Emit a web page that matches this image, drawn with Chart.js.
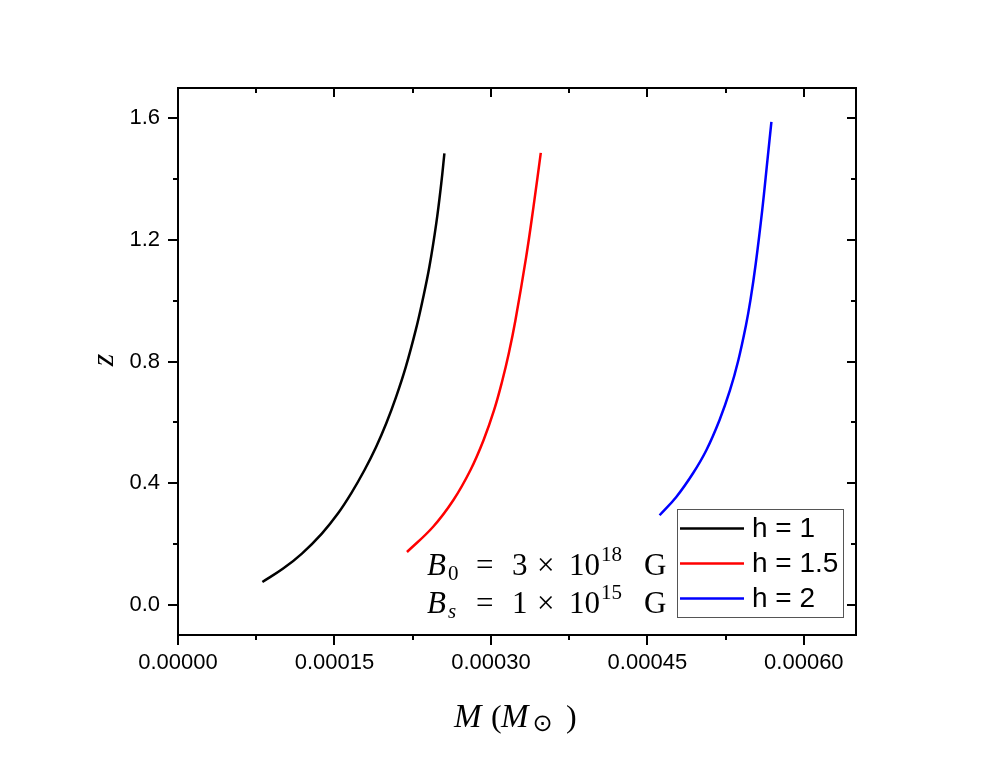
<!DOCTYPE html>
<html>
<head>
<meta charset="utf-8">
<script src="https://cdn.jsdelivr.net/npm/chart.js@4.4.1/dist/chart.umd.min.js"></script>
<style>
  body { margin: 0; background: #fff; }
</style>
</head>
<body>
<canvas id="chartCanvas" width="997" height="763"></canvas>
<script>
// series: mass (solar masses) and z
const seriesLabels = ["h = 1", "h = 1.5", "h = 2"];
const seriesColors = ["#000000", "#ff0000", "#0000ff"];

const massH1 = [0.0000809, 0.0001008, 0.0001188, 0.0001379, 0.0001533, 0.0001659, 0.0001787, 0.0001899, 0.0001996, 0.0002091, 0.0002184, 0.0002279, 0.0002345, 0.0002410, 0.0002476, 0.0002524, 0.0002554];
const zH1 = [0.0744, 0.1185, 0.1679, 0.2337, 0.2996, 0.3654, 0.4421, 0.5189, 0.5959, 0.6835, 0.7822, 0.9031, 1.0018, 1.1115, 1.2543, 1.3860, 1.4848];

const massH15 = [0.0002195, 0.0002444, 0.0002639, 0.0002803, 0.0002929, 0.0003030, 0.0003110, 0.0003171, 0.0003235, 0.0003338, 0.0003408, 0.0003478];
const zH15 = [0.1732, 0.2555, 0.3434, 0.4421, 0.5409, 0.6397, 0.7384, 0.8263, 0.9360, 1.1444, 1.3090, 1.4867];

const massH2 = [0.0004617, 0.0004777, 0.0004936, 0.0005065, 0.0005191, 0.0005292, 0.0005372, 0.0005442, 0.0005488, 0.0005539, 0.0005601, 0.0005651, 0.0005689];
const zH2 = [0.2940, 0.3542, 0.4313, 0.5080, 0.6068, 0.7055, 0.8043, 0.9139, 1.0018, 1.1226, 1.2981, 1.4627, 1.5888];

const xTicks = [0, 0.00015, 0.0003, 0.00045, 0.0006];
const xMinorTicks = [0.000075, 0.000225, 0.000375, 0.000525];
const yTicks = [0, 0.4, 0.8, 1.2, 1.6];
const yMinorTicks = [0.2, 0.6, 1.0, 1.4];

const sansFont = "'Liberation Sans', Arial, sans-serif";
const serifFont = "'Liberation Serif', 'Times New Roman', serif";

function toPoints(xs, ys) {
  return xs.map((x, i) => ({ x: x, y: ys[i] }));
}

const allMass = [massH1, massH15, massH2];
const allZ = [zH1, zH15, zH2];

const datasets = seriesLabels.map((label, i) => ({
  label: label,
  data: toPoints(allMass[i], allZ[i]),
  borderColor: seriesColors[i],
  borderWidth: 2.5,
  pointRadius: 0,
  fill: false,
  tension: 0.4
}));

// ticks, frame, legend and text labels
const framePlugin = {
  id: "frame",
  afterDraw(chart) {
    const ctx = chart.ctx;
    const a = chart.chartArea;
    const xs = chart.scales.x;
    const ys = chart.scales.y;
    ctx.save();
    ctx.strokeStyle = "#000";
    ctx.lineWidth = 2;
    ctx.strokeRect(a.left, a.top, a.right - a.left, a.bottom - a.top);

    function xTick(v, outLen, inLen) {
      const p = Math.round(xs.getPixelForValue(v));
      ctx.beginPath();
      ctx.moveTo(p, a.bottom);
      ctx.lineTo(p, a.bottom + outLen);
      ctx.moveTo(p, a.top);
      ctx.lineTo(p, a.top + inLen);
      ctx.stroke();
    }
    function yTick(v, outLen, inLen) {
      const p = Math.round(ys.getPixelForValue(v));
      ctx.beginPath();
      ctx.moveTo(a.left, p);
      ctx.lineTo(a.left - outLen, p);
      ctx.moveTo(a.right, p);
      ctx.lineTo(a.right - inLen, p);
      ctx.stroke();
    }
    xTicks.forEach(v => xTick(v, 10, 9));
    xMinorTicks.forEach(v => xTick(v, 5, 5));
    yTicks.forEach(v => yTick(v, 10, 9));
    yMinorTicks.forEach(v => yTick(v, 5, 5));

    // legend
    const lx = 677, ly = 509, lw = 166, lh = 108;
    ctx.lineWidth = 1;
    ctx.strokeStyle = "#555";
    ctx.fillStyle = "#fff";
    ctx.fillRect(lx, ly, lw, lh);
    ctx.strokeRect(lx + 0.5, ly + 0.5, lw, lh);
    ctx.font = "28px " + sansFont;
    ctx.textBaseline = "middle";
    ctx.textAlign = "left";
    chart.data.datasets.forEach((ds, i) => {
      const y = ly + 19.5 + i * 35;
      ctx.strokeStyle = ds.borderColor;
      ctx.lineWidth = 2.5;
      ctx.beginPath();
      ctx.moveTo(lx + 3, y);
      ctx.lineTo(lx + 67, y);
      ctx.stroke();
      ctx.fillStyle = "#000";
      ctx.fillText(ds.label, lx + 75, y + 1);
    });

    // annotation text; parts with "after" follow the previous part
    ctx.fillStyle = "#000";
    ctx.textBaseline = "alphabetic";
    function runs(x0, y0, parts) {
      let end = x0;
      parts.forEach(p => {
        ctx.font = p.f;
        const x = p.after ? end + (p.gap || 0) : x0 + p.dx;
        ctx.fillText(p.t, x, y0 + (p.dy || 0));
        end = x + ctx.measureText(p.t).width;
      });
    }
    const big = "31px " + serifFont;
    const bigI = "italic 31px " + serifFont;
    const small = "21px " + serifFont;
    const smallI = "italic 21px " + serifFont;
    runs(427, 575, [
      { t: "B", f: bigI, dx: 0 },
      { t: "0", f: small, after: true, gap: 2, dy: 5 },
      { t: "=", f: big, dx: 49 },
      { t: "3", f: big, dx: 85 },
      { t: "\u00d7", f: big, dx: 110 },
      { t: "10", f: big, dx: 142 },
      { t: "18", f: small, after: true, gap: 1, dy: -14 },
      { t: "G", f: big, dx: 217 }
    ]);
    runs(427, 613, [
      { t: "B", f: bigI, dx: 0 },
      { t: "s", f: smallI, after: true, gap: 2, dy: 5 },
      { t: "=", f: big, dx: 49 },
      { t: "1", f: big, dx: 85 },
      { t: "\u00d7", f: big, dx: 110 },
      { t: "10", f: big, dx: 142 },
      { t: "15", f: small, after: true, gap: 1, dy: -14 },
      { t: "G", f: big, dx: 217 }
    ]);

    // x axis title
    runs(454, 727, [
      { t: "M", f: "italic 33px " + serifFont, dx: 0 },
      { t: "(", f: "32px " + serifFont, dx: 37 },
      { t: "M", f: "italic 33px " + serifFont, dx: 47 },
      { t: "\u2299", f: "24px 'DejaVu Sans', sans-serif", after: true, gap: 4, dy: 4 },
      { t: ")", f: "32px " + serifFont, dx: 112 }
    ]);

    // y axis title
    ctx.save();
    ctx.translate(105, 360);
    ctx.rotate(-Math.PI / 2);
    ctx.font = "italic 32px " + serifFont;
    ctx.textAlign = "center";
    ctx.textBaseline = "middle";
    ctx.fillText("z", 0, 0);
    ctx.restore();

    ctx.restore();
  }
};

const ctx = document.getElementById("chartCanvas").getContext("2d");
const chart = new Chart(ctx, {
  type: "line",
  data: { datasets: datasets },
  options: {
    responsive: false,
    devicePixelRatio: 1,
    animation: false,
    layout: { padding: { top: 88, right: 141, left: 0, bottom: 0 } },
    plugins: {
      legend: { display: false },
      tooltip: { enabled: false }
    },
    scales: {
      x: {
        type: "linear",
        min: 0,
        max: 0.00065,
        grid: { display: false, drawTicks: true, tickLength: 10 },
        border: { display: false },
        afterBuildTicks: scale => { scale.ticks = xTicks.map(v => ({ value: v })); },
        afterFit: scale => { scale.height = 128; },
        ticks: {
          padding: 5,
          maxRotation: 0,
          color: "#000",
          font: { family: sansFont, size: 22 },
          callback: value => Number(value).toFixed(5)
        }
      },
      y: {
        type: "linear",
        min: -0.1,
        max: 1.7,
        grid: { display: false, drawTicks: true, tickLength: 10 },
        border: { display: false },
        afterBuildTicks: scale => { scale.ticks = yTicks.map(v => ({ value: v })); },
        afterFit: scale => { scale.width = 178; },
        ticks: {
          padding: 8,
          color: "#000",
          font: { family: sansFont, size: 22 },
          callback: value => Number(value).toFixed(1)
        }
      }
    }
  },
  plugins: [framePlugin]
});
</script>
</body>
</html>
